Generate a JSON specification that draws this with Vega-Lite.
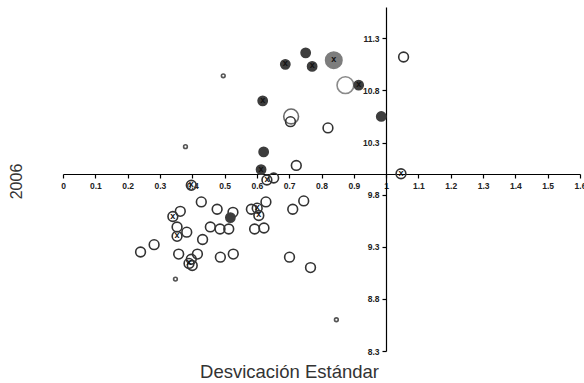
{
  "$schema": "https://vega.github.io/schema/vega-lite/v6.json",
  "autosize": "none",
  "width": 517,
  "height": 344,
  "padding": {"left": 63, "top": 7, "right": 4, "bottom": 32},
  "background": "white",
  "config": {"view": {"stroke": null}},
  "data": {"values": [
    {"x": 0.751, "y": 11.16, "type": "filled", "cross": false},
    {"x": 0.688, "y": 11.05, "type": "filled", "cross": true},
    {"x": 0.771, "y": 11.03, "type": "filled", "cross": true},
    {"x": 0.838, "y": 11.09, "type": "biggrey", "cross": true},
    {"x": 0.874, "y": 10.85, "type": "bigopen", "cross": false},
    {"x": 0.496, "y": 10.94, "type": "tiny", "cross": false},
    {"x": 0.618, "y": 10.70, "type": "filled", "cross": true},
    {"x": 0.706, "y": 10.55, "type": "midopen", "cross": false},
    {"x": 0.704, "y": 10.50, "type": "open", "cross": false},
    {"x": 0.820, "y": 10.44, "type": "open", "cross": false},
    {"x": 0.379, "y": 10.26, "type": "tiny", "cross": false},
    {"x": 0.621, "y": 10.21, "type": "filled", "cross": false},
    {"x": 0.722, "y": 10.08, "type": "open", "cross": false},
    {"x": 0.613, "y": 10.04, "type": "filled", "cross": true},
    {"x": 0.915, "y": 10.85, "type": "filled", "cross": true},
    {"x": 0.985, "y": 10.55, "type": "filled", "cross": false},
    {"x": 1.054, "y": 11.12, "type": "open", "cross": false},
    {"x": 1.046, "y": 10.00, "type": "open", "cross": true},
    {"x": 0.631, "y": 9.94, "type": "open", "cross": true},
    {"x": 0.652, "y": 9.96, "type": "open", "cross": false},
    {"x": 0.397, "y": 9.89, "type": "open", "cross": true},
    {"x": 0.428, "y": 9.73, "type": "open", "cross": false},
    {"x": 0.363, "y": 9.64, "type": "open", "cross": false},
    {"x": 0.340, "y": 9.59, "type": "open", "cross": true},
    {"x": 0.477, "y": 9.66, "type": "open", "cross": false},
    {"x": 0.526, "y": 9.63, "type": "open", "cross": false},
    {"x": 0.518, "y": 9.58, "type": "filled", "cross": false},
    {"x": 0.583, "y": 9.66, "type": "open", "cross": false},
    {"x": 0.601, "y": 9.67, "type": "open", "cross": true},
    {"x": 0.606, "y": 9.60, "type": "open", "cross": true},
    {"x": 0.628, "y": 9.73, "type": "open", "cross": false},
    {"x": 0.745, "y": 9.74, "type": "open", "cross": false},
    {"x": 0.711, "y": 9.66, "type": "open", "cross": false},
    {"x": 0.353, "y": 9.49, "type": "open", "cross": false},
    {"x": 0.383, "y": 9.44, "type": "open", "cross": false},
    {"x": 0.353, "y": 9.40, "type": "open", "cross": true},
    {"x": 0.456, "y": 9.49, "type": "open", "cross": false},
    {"x": 0.486, "y": 9.47, "type": "open", "cross": false},
    {"x": 0.513, "y": 9.47, "type": "open", "cross": false},
    {"x": 0.593, "y": 9.47, "type": "open", "cross": false},
    {"x": 0.622, "y": 9.48, "type": "open", "cross": false},
    {"x": 0.432, "y": 9.37, "type": "open", "cross": false},
    {"x": 0.282, "y": 9.32, "type": "open", "cross": false},
    {"x": 0.240, "y": 9.25, "type": "open", "cross": false},
    {"x": 0.358, "y": 9.23, "type": "open", "cross": false},
    {"x": 0.416, "y": 9.23, "type": "open", "cross": false},
    {"x": 0.487, "y": 9.20, "type": "open", "cross": false},
    {"x": 0.527, "y": 9.23, "type": "open", "cross": false},
    {"x": 0.397, "y": 9.18, "type": "open", "cross": false},
    {"x": 0.390, "y": 9.14, "type": "open", "cross": true},
    {"x": 0.400, "y": 9.12, "type": "open", "cross": false},
    {"x": 0.701, "y": 9.20, "type": "open", "cross": false},
    {"x": 0.766, "y": 9.10, "type": "open", "cross": false},
    {"x": 0.348, "y": 8.99, "type": "tiny", "cross": false},
    {"x": 0.846, "y": 8.60, "type": "tiny", "cross": false}
  ]},
  "encoding": {
    "x": {"field": "x", "type": "quantitative",
      "scale": {"domain": [0, 1.6], "nice": false, "zero": false},
      "axis": {"orient": "bottom", "offset": -177, "values": [0,0.1,0.2,0.3,0.4,0.5,0.6,0.7,0.8,0.9,1,1.1,1.2,1.3,1.4,1.5,1.6],
        "format": "~g", "grid": false, "domainColor": "#000", "domainWidth": 1.2, "tickColor": "#000", "tickSize": 4, "tickWidth": 1.2,
        "labelFont": "Liberation Sans", "labelFontWeight": "bold", "labelFontSize": 8.5, "labelColor": "#222", "labelPadding": 3,
        "labelFlush": false, "labelOverlap": false,
        "title": "Desvicación Estándar", "titleFont": "Liberation Sans", "titleFontWeight": "normal", "titleFontSize": 18.5, "titleColor": "#333",
        "titleX": 226, "titleY": 203, "titleAlign": "center", "titleBaseline": "alphabetic", "titleAnchor": null}},
    "y": {"field": "y", "type": "quantitative",
      "scale": {"domain": [8.3, 11.6], "nice": false, "zero": false},
      "axis": {"orient": "left", "offset": -323, "values": [8.3,8.8,9.3,9.8,10.3,10.8,11.3],
        "format": ".1f", "grid": false, "domainColor": "#000", "domainWidth": 1.2, "tickColor": "#000", "tickSize": 4, "tickWidth": 1.2,
        "labelFont": "Liberation Sans", "labelFontWeight": "bold", "labelFontSize": 8.5, "labelColor": "#222", "labelPadding": 3,
        "labelFlush": false, "labelOverlap": false,
        "title": "2006", "titleFont": "Liberation Sans", "titleFontWeight": "normal", "titleFontSize": 16, "titleColor": "#333",
        "titleX": -365, "titleY": 174, "titleAngle": -90, "titleAlign": "center", "titleBaseline": "alphabetic", "titleAnchor": null}}
  },
  "layer": [
    {
      "mark": {"type": "point", "shape": "circle", "strokeWidth": 1.6, "opacity": 1},
      "encoding": {
        "size": {"field": "type", "type": "nominal", "legend": null,
          "scale": {"type": "ordinal", "domain": ["open", "filled", "biggrey", "bigopen", "midopen", "tiny"], "range": [95, 85, 270, 280, 220, 14]}},
        "fill": {"field": "type", "type": "nominal", "legend": null,
          "scale": {"domain": ["open", "filled", "biggrey", "bigopen", "midopen", "tiny"], "range": ["transparent", "#3d3d3d", "#7d7d7d", "transparent", "transparent", "transparent"]}},
        "stroke": {"field": "type", "type": "nominal", "legend": null,
          "scale": {"domain": ["open", "filled", "biggrey", "bigopen", "midopen", "tiny"], "range": ["#333333", "#3d3d3d", "#7d7d7d", "#8a8a8a", "#6a6a6a", "#555555"]}}
      }
    },
    {
      "transform": [{"filter": "datum.cross"}],
      "mark": {"type": "text", "text": "x", "fontSize": 9, "font": "Liberation Sans", "fontWeight": "bold", "color": "#111", "baseline": "middle", "align": "center", "dy": -1}
    }
  ]
}
